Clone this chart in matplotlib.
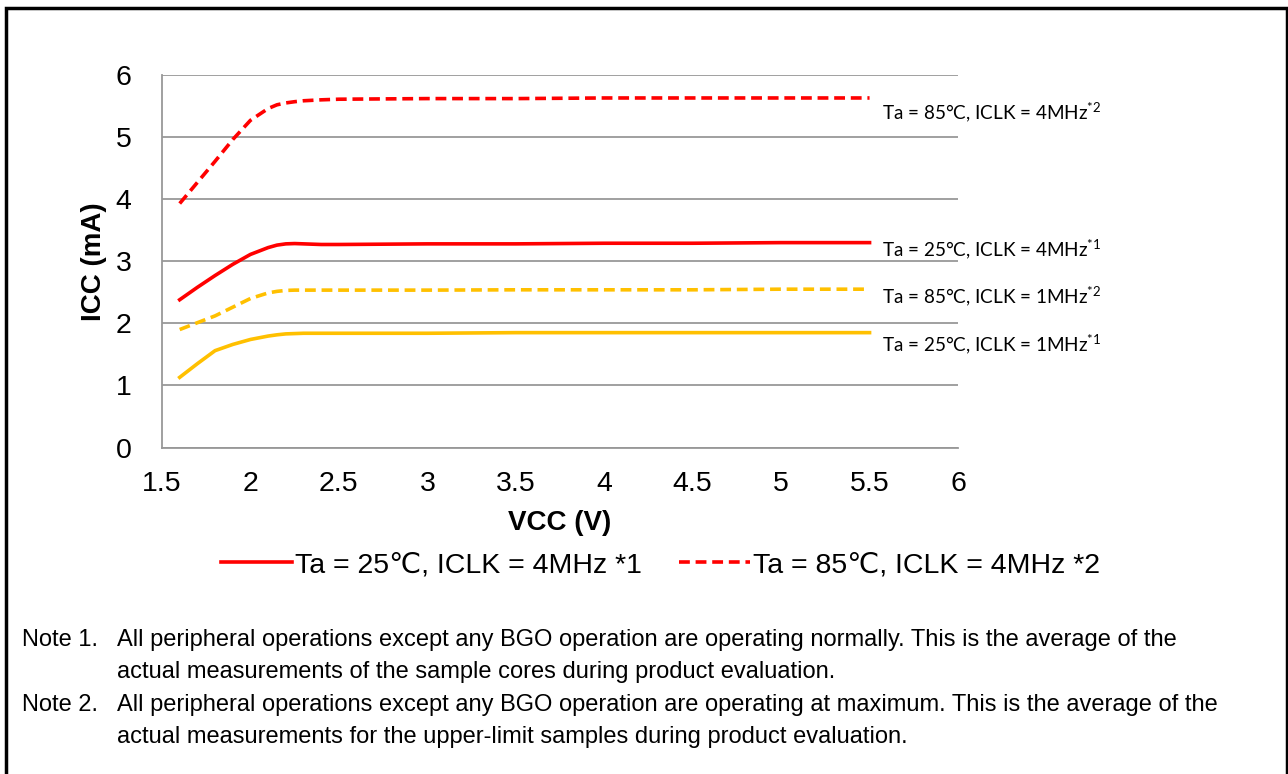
import matplotlib.pyplot as plt
from matplotlib.patches import Rectangle
from matplotlib.lines import Line2D

plt.rcParams['font.family'] = ['Liberation Sans', 'DejaVu Sans']

vcc = [1.6, 1.7, 1.8, 1.9, 2.0, 2.1, 2.15, 2.2, 2.25, 2.3, 2.4, 2.5, 3.0, 3.5, 4.0, 4.5, 5.0, 5.5]
icc_25_4 = [2.38, 2.58, 2.77, 2.95, 3.11, 3.22, 3.26, 3.28, 3.285, 3.28, 3.27, 3.27, 3.28, 3.28, 3.29, 3.29, 3.30, 3.30]
icc_85_4 = [3.93, 4.27, 4.61, 4.96, 5.27, 5.46, 5.52, 5.55, 5.57, 5.585, 5.60, 5.61, 5.62, 5.62, 5.63, 5.63, 5.63, 5.63]
icc_85_1 = [1.90, 2.01, 2.12, 2.26, 2.40, 2.49, 2.515, 2.53, 2.535, 2.535, 2.535, 2.535, 2.535, 2.54, 2.54, 2.54, 2.55, 2.55]
icc_25_1 = [1.13, 1.35, 1.56, 1.66, 1.74, 1.795, 1.815, 1.83, 1.835, 1.84, 1.84, 1.84, 1.84, 1.85, 1.85, 1.85, 1.85, 1.85]

end_labels = ['Ta = 85°C, ICLK = 4MHz', 'Ta = 25°C, ICLK = 4MHz',
              'Ta = 85°C, ICLK = 1MHz', 'Ta = 25°C, ICLK = 1MHz']
end_marks = ['*2', '*1', '*2', '*1']
end_y = [5.39, 3.18, 2.42, 1.65]

legend_labels = ['Ta = 25℃, ICLK = 4MHz *1', 'Ta = 85℃, ICLK = 4MHz *2']

notes = [
    ('Note 1.', 'All peripheral operations except any BGO operation are operating normally. This is the average of the',
     'actual measurements of the sample cores during product evaluation.'),
    ('Note 2.', 'All peripheral operations except any BGO operation are operating at maximum. This is the average of the',
     'actual measurements for the upper-limit samples during product evaluation.'),
]

RED = '#FF0000'
GOLD = '#FFC000'
GRID = '#989898'
dash = (0, (3.0, 1.6))

fig = plt.figure(figsize=(12.88, 7.74), dpi=100)
ax = fig.add_axes([162 / 1288, 1 - 447.5 / 774, (958 - 162) / 1288, (447.5 - 75) / 774])

ax.plot(vcc, icc_85_4, color=RED, lw=2.6, ls=dash)
ax.plot(vcc, icc_25_4, color=RED, lw=2.6)
ax.plot(vcc, icc_85_1, color=GOLD, lw=2.6, ls=dash)
ax.plot(vcc, icc_25_1, color=GOLD, lw=2.6)

ax.set_xlim(1.5, 6)
ax.set_ylim(0, 6)
ax.set_xticks([1.5, 2, 2.5, 3, 3.5, 4, 4.5, 5, 5.5, 6])
ax.set_xticklabels(['1.5', '2', '2.5', '3', '3.5', '4', '4.5', '5', '5.5', '6'])
ax.set_yticks(range(7))
ax.tick_params(length=0, labelsize=20.5)
ax.tick_params(axis='x', pad=17)
ax.tick_params(axis='y', pad=22)
ax.grid(axis='y', color=GRID, lw=1.3)
ax.set_axisbelow(True)
for s in ['top', 'right']:
    ax.spines[s].set_visible(False)
for s in ['left', 'bottom']:
    ax.spines[s].set_color(GRID)
    ax.spines[s].set_linewidth(1.3)

ax.set_xlabel('VCC (V)', fontsize=20, fontweight='bold', labelpad=9)
ax.set_ylabel('ICC (mA)', fontsize=20, fontweight='bold', labelpad=6)

for lab, mk, y in zip(end_labels, end_marks, end_y):
    ax.text(5.57, y, lab + r'$^{\mathregular{' + mk + '}}$', fontsize=13.6,
            family=['Lato', 'DejaVu Sans'], va='center', ha='left', clip_on=False)

handles = [Line2D([], [], color=RED, lw=2.6),
           Line2D([], [], color=RED, lw=2.6, ls=dash)]
fig.legend(handles, legend_labels, loc='center', bbox_to_anchor=(0.513, 1 - 565 / 774),
           ncol=2, frameon=False, fontsize=20.5, handlelength=2.5, handletextpad=0.1,
           columnspacing=1.3)

note_rows = [640, 705]
for (head, l1, l2), y in zip(notes, note_rows):
    fig.text(22 / 1288, 1 - y / 774, head, fontsize=17, va='center')
    fig.text(117 / 1288, 1 - y / 774, l1, fontsize=17, va='center')
    fig.text(117 / 1288, 1 - (y + 32) / 774, l2, fontsize=17, va='center')

fig.patches.append(Rectangle((5.5 / 1288, -0.05), (1286.5 - 5.5) / 1288, 1 - 7.5 / 774 + 0.05,
                             transform=fig.transFigure, fill=False, ec='black', lw=2.5))

fig.savefig('out.png', dpi=100)
